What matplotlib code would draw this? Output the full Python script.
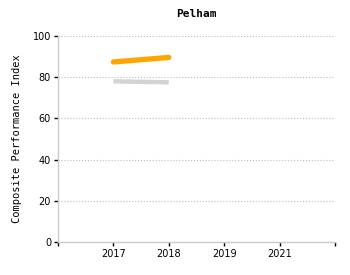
import matplotlib
matplotlib.use('Agg')
from matplotlib import pyplot as plt

# data
years = ['2017', '2018', '2019', '2021']
orange_vals = [87.4, 89.6]
gray_vals = [78.0, 77.5]
yticks = [0, 20, 40, 60, 80, 100]

fig = plt.figure(figsize=(3.5, 2.75), dpi=100)
ax = fig.add_axes([58 / 350, 33 / 275, 277 / 350, 206 / 275])

xpos = list(range(1, len(years) + 1))
ax.plot(xpos[:2], gray_vals, color='#d3d3d3', linewidth=3.2, solid_capstyle='butt', zorder=3)
ax.plot(xpos[:2], orange_vals, color='#ffa500', linewidth=3.8, solid_capstyle='round', zorder=4)

ax.set_xlim(0, len(years) + 1)
ax.set_ylim(0, 100)
ax.set_xticks([0] + xpos + [len(years) + 1])
ax.set_xticklabels([''] + years + [''], fontsize=7, family='DejaVu Sans')
ax.set_yticks(yticks)
ax.set_yticklabels([str(v) for v in yticks], fontsize=7, family='DejaVu Sans')

ax.grid(axis='y', color='#bbbbbb', linestyle=':', linewidth=0.8)
ax.set_axisbelow(True)
for s in ['top', 'right']:
    ax.spines[s].set_visible(False)
for s in ['left', 'bottom']:
    ax.spines[s].set_color('#cccccc')
    ax.spines[s].set_linewidth(1)
ax.tick_params(axis='both', length=3, width=1, color='black', pad=2)

ax.set_ylabel('Composite Performance Index', family='DejaVu Sans Mono', fontsize=7.5, labelpad=8)
ax.set_title('Pelham', family='DejaVu Sans Mono', fontweight='bold', fontsize=8, pad=14)

fig.savefig('out.png', dpi=100)
